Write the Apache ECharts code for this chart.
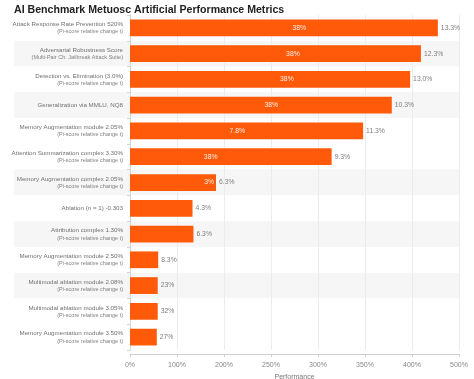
<!DOCTYPE html>
<html><head><meta charset="utf-8">
<script src="https://cdn.jsdelivr.net/npm/echarts@6/dist/echarts.min.js"></script>
<style>html,body{margin:0;padding:0;background:#fff}#c{width:474px;height:379px}</style>
</head><body><div id="c"></div>
<script>
const titleText = 'AI Benchmark Metuosc Artificial Performance Metrics';
const mainLines = [
  'Attack Response Rate Prevention 520%',
  'Adversarial Robustness Score',
  'Detection vs. Elimination (3.0%)',
  'Generalization via MMLU, NQ8',
  'Memory Augmentation module 2.05%',
  'Attention Summarization complex 3.30%',
  'Memory Augmentation complex 2.05%',
  'Ablation (n = 1) -0.303',
  'Attribution complex 1.30%',
  'Memory Augmentation module 2.50%',
  'Multimodal ablation module 2.08%',
  'Multimodal ablation module 3.05%',
  'Memory Augmentation module 3.50%'
];
const subLines = [
  '(Pi-score relative change t)',
  '(Multi-Pair Ch. Jailbreak Attack Suite)',
  '(Pi-score relative change t)',
  '',
  '(Pi-score relative change t)',
  '(Pi-score relative change t)',
  '(Pi-score relative change t)',
  '',
  '(Pi-score relative change t)',
  '(Pi-score relative change t)',
  '(Pi-score relative change t)',
  '(Pi-score relative change t)',
  '(Pi-score relative change t)'
];
const values = [655, 619, 596, 557, 496, 429, 183, 133, 135, 60, 59, 59, 57];
const rightLabels = ['13.3%','12.3%','13.0%','10.3%','11.3%','9.3%','6.3%','4.3%','6.3%','8.3%','23%','32%','27%'];
const insideLabels = ['38%','38%','38%','38%','7.8%','38%','3%','','','','','',''];
const tickLabels = ['0%','100%','200%','250%','300%','350%','400%','500%'];
const axisName = 'Performance';

// styles
const insidePos = [0.55,0.56,0.56,0.54,0.46,0.40,0.92];
const bandColors = ['#ffffff','#f6f6f6','#ffffff','#f6f6f6','#ffffff','#ffffff','#f6f6f6','#ffffff','#f6f6f6','#ffffff','#f6f6f6','#ffffff','#ffffff'];
const barColor = '#ff5a0a';

const cats = mainLines.map((m,i)=>String(i));

const chart = echarts.init(document.getElementById('c'), null, {renderer:'canvas'});
chart.setOption({
  animation:false,
  backgroundColor:'#ffffff',
  title:{text:titleText, left:9, top:0, textStyle:{fontSize:10.6, fontWeight:'bold', color:'#222', fontFamily:'Liberation Sans, Arial'}},
  grid:[
    {left:14, right:15, top:15, bottom:29, containLabel:false, outerBoundsMode:'none'},
    {left:130, right:15, top:15, bottom:29, containLabel:false, outerBoundsMode:'none'}
  ],
  xAxis:[
    {gridIndex:0, type:'value', show:false, min:0, max:1},
    {gridIndex:1, type:'value', min:0, max:700, interval:100, offset:4,
     name:axisName, nameLocation:'middle', nameGap:20,
     nameTextStyle:{fontSize:7, color:'#777', fontFamily:'Liberation Sans, Arial'},
     axisLine:{show:true, lineStyle:{color:'#cfcfcf', width:1}},
     axisTick:{show:true, length:3, lineStyle:{color:'#cfcfcf'}},
     axisLabel:{fontSize:7, color:'#888', margin:8, fontFamily:'Liberation Sans, Arial',
       formatter:v=>tickLabels[Math.round(v/100)]},
     splitLine:{show:true, lineStyle:{color:'#ececec', width:1}}
    }
  ],
  yAxis:[
    {gridIndex:0, type:'category', data:cats, inverse:true,
     axisLine:{show:false}, axisTick:{show:false}, axisLabel:{show:false},
     splitArea:{show:true, interval:0, areaStyle:{color:bandColors}}},
    {gridIndex:1, type:'category', data:cats, inverse:true,
     axisLine:{show:true, lineStyle:{color:'#d5d5d5'}},
     axisTick:{show:true, length:3, lineStyle:{color:'#d5d5d5'}},
     axisLabel:{interval:0, margin:7, align:'right',
       formatter:(v)=>{const i=+v; return subLines[i] ? '{a|'+mainLines[i]+'}\n{b|'+subLines[i]+'}' : '{a|'+mainLines[i]+'}';},
       rich:{a:{fontSize:6.2, color:'#707070', lineHeight:8, fontFamily:'Liberation Sans, Arial', align:'right'},
             b:{fontSize:5.5, color:'#808080', lineHeight:7, fontFamily:'Liberation Sans, Arial', align:'right'}}}
    }
  ],
  series:[
    {type:'bar', xAxisIndex:1, yAxisIndex:1, data:values, barWidth:'65%',
     itemStyle:{color:barColor},
     label:{show:true, position:'right', distance:3, fontSize:6.8, color:'#808080', fontFamily:'Liberation Sans, Arial',
       formatter:p=>rightLabels[p.dataIndex]}},
    {type:'bar', xAxisIndex:1, yAxisIndex:1, barGap:'-100%', barWidth:'65%', silent:true, z:3,
     data: values.map((v,i)=>({value:v,
       label:{show:!!insideLabels[i], position:[((insidePos[i]||0.5)*100)+'%','50%'], align:'center', verticalAlign:'middle',
         fontSize:6.8, color:'rgba(255,255,255,0.9)', fontFamily:'Liberation Sans, Arial', formatter:()=>insideLabels[i]}})),
     itemStyle:{color:'rgba(0,0,0,0)'}}
  ]
});
</script></body></html>
